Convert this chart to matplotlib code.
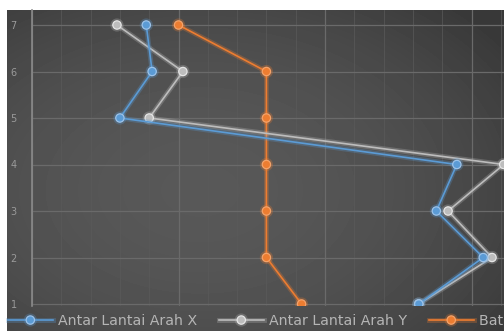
"""Story drift per floor: X and Y direction against the allowable limit."""
import matplotlib
matplotlib.use("Agg")
import matplotlib.pyplot as plt
import matplotlib.patheffects as pe
import numpy as np

W, H = 504, 331

floors = [1, 2, 3, 4, 5, 6, 7]
drift_x = [13.2, 15.4, 13.8, 14.5, 3.0, 4.1, 3.9]
drift_y = [13.2, 15.7, 14.2, 16.1, 4.0, 5.15, 2.9]
batas = [9.2, 8.0, 8.0, 8.0, 8.0, 8.0, 5.0]
labels = ["Antar Lantai Arah X", "Antar Lantai Arah Y", "Batas Simpangan Izin"]


def box(x0, y0, x1, y1):
    # pixel box (top-left origin) -> figure fraction rect
    return [x0 / W, 1 - y1 / H, (x1 - x0) / W, (y1 - y0) / H]


fig = plt.figure(figsize=(W / 100, H / 100), dpi=100)
fig.patch.set_facecolor("white")

# dark chart area with a soft vignette
bg = fig.add_axes(box(7, 10, 504, 331))
bg.set_axis_off()
yy, xx = np.mgrid[10:331, 7:504]
r2 = ((xx - 200) / 300.0) ** 2 + ((yy - 190) / 200.0) ** 2
shade = np.clip(88 - 20 * r2, 56, 90) / 255.0
bg.imshow(shade, cmap="gray", vmin=0, vmax=1, aspect="auto",
          interpolation="bilinear")

ax = fig.add_axes(box(32, 10, 504, 306))
ax.set_facecolor("none")
ax.set_xlim(0, 472 / 29.3)
ax.set_ylim(1 - 2 / 46.5, 7 + 15 / 46.5)

ax.set_xticks(np.arange(0, 17, 5))
ax.set_xticks(np.arange(0, 17, 1), minor=True)
ax.set_yticks(floors)
ax.set_xticklabels([])
ax.tick_params(axis="both", which="both", length=0)
ax.tick_params(axis="y", colors="#9a9a9a", labelsize=7, pad=11)
ax.grid(which="major", color="#6a6a6a", lw=0.9)
ax.grid(which="minor", axis="x", color="#5a5a5a", lw=0.5)
for s in ["top", "right", "bottom"]:
    ax.spines[s].set_visible(False)
ax.spines["left"].set_color("#8a8a8a")
ax.spines["left"].set_linewidth(1.2)

glow = lambda c: [pe.Stroke(linewidth=3.5, foreground=c, alpha=0.28),
                  pe.Normal()]

series = [
    (drift_x, "#5b9bd5", "#9cc3ea", 4),
    (drift_y, "#bdbdbd", "#e6e6e6", 3),
    (batas, "#ed7d31", "#f5a36a", 2),
]
handles = []
for vals, col, edge, z in series:
    ln, = ax.plot(vals, floors, color=col, lw=1.2, marker="o", ms=6,
                  mfc=col, mec=edge, mew=0.9, zorder=z,
                  path_effects=glow(col))
    handles.append(ln)

leg = fig.legend(handles, labels, loc="center left",
                 bbox_to_anchor=(2 / W, 1 - 321 / H), ncol=3, frameon=False,
                 fontsize=10.2, labelcolor="#b5b5b5", handlelength=3.2,
                 handletextpad=0.37, columnspacing=1.5, borderaxespad=0)

fig.savefig("out.png", dpi=100, facecolor=fig.get_facecolor())
